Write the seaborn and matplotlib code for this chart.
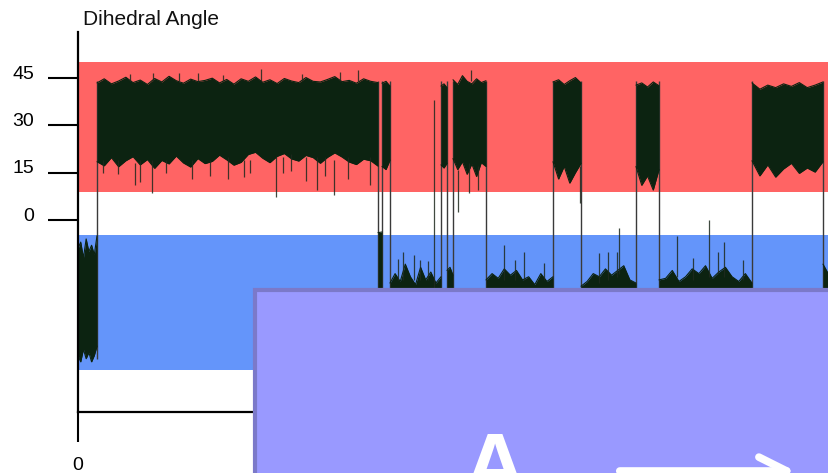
import numpy as np
import pandas as pd
import matplotlib
matplotlib.use('Agg')
import matplotlib.pyplot as plt
import matplotlib.transforms as mtransforms
from matplotlib.patches import Rectangle, FancyArrowPatch
import seaborn as sns

sns.set_style('white')
plt.rcParams['font.family'] = ['Liberation Sans', 'DejaVu Sans']

# ---------------------------------------------------------
# data (time in frames, angle in degrees)
# ---------------------------------------------------------
y_ticks = [0, 15, 30, 45]
x_ticks = [0]

red_band = (8.9, 50.1)      # upper conformer window
blue_band = (-47.6, -4.8)   # lower conformer window

seg_start = [0, 19, 300, 304, 312, 363, 369, 375, 408, 475, 503, 558, 581, 674, 745]
seg_end = [19, 300, 304, 312, 363, 369, 375, 408, 475, 503, 558, 581, 674, 745, 752]

seg_top = [
    [-9, -7, -12, -6, -10, -8, -11, -5],
    [43.5, 44.8, 43.2, 44.1, 45.3, 43.6, 44.4, 43.0, 44.9, 43.8, 45.6, 44.2, 43.4, 44.7,
     43.9, 44.3, 45.0, 43.5, 44.6, 43.1, 44.8, 44.0, 45.4, 43.7, 44.5, 43.3, 44.9, 44.1,
     43.6, 45.2, 44.0, 43.8, 44.6, 45.5, 43.9, 44.3, 43.4, 44.8, 44.0, 43.6],
    [-4, -3.8],
    [43.4, 44.0, 42.5],
    [-20, -17, -19.5, -14, -18, -20.5, -15, -19, -16.5, -20, -18],
    [42.5, 43.2, 42.0],
    [-16, -15, -17.5],
    [44.5, 43.0, 45.8, 44.0, 43.2, 44.8, 43.6, 44.2],
    [-19, -17, -18.5, -15.5, -17.5, -16, -19, -18, -20.5, -17, -19.5, -18],
    [43.8, 44.5, 43.0, 44.2, 45.2, 43.5],
    [-21, -19.5, -17, -18, -15.5, -17.5, -16, -14.5, -19, -20],
    [42.8, 43.5, 42.2, 43.8, 42.6],
    [-19, -18.5, -16, -19.5, -18, -15.5, -17, -14.5, -18.5, -16.5, -15, -18, -19.5, -17, -20],
    [43.5, 41.5, 42.8, 42.0, 43.2, 42.4, 43.6, 42.0, 42.8, 43.8],
    [-14, -18],
]
seg_bottom = [
    [-43, -45, -41, -44, -42, -45, -43, -40],
    [18.5, 17.2, 19.8, 16.9, 18.8, 20.1, 17.5, 19.2, 16.4, 18.9, 17.8, 20.3, 18.1, 16.8,
     19.5, 17.9, 18.6, 20.6, 19.1, 17.4, 18.3, 20.8, 21.5, 19.6, 18.2, 20.2, 21.1, 19.4,
     18.7, 20.5, 19.8, 18.0, 19.9, 21.3, 20.0, 18.4, 17.6, 19.3, 18.8, 17.1],
    [-44, -44],
    [17.0, 16.0, 19.0],
    [-44] * 11,
    [17.5, 16.5, 18.0],
    [-44] * 3,
    [19.5, 16.0, 18.5, 14.5, 17.8, 13.8, 18.2, 17.0],
    [-44] * 12,
    [18.5, 13.0, 17.0, 11.7, 15.0, 18.0],
    [-44] * 10,
    [17.0, 11.0, 14.0, 9.5, 16.0],
    [-44] * 15,
    [18.8, 14.0, 17.5, 13.6, 16.2, 18.0, 14.8, 16.5, 15.2, 18.5],
    [-44, -44],
]

# short single-frame excursions (frame, from, to)
spike_t = [25, 57, 62, 74, 114, 150, 172, 198, 213, 228, 239, 256,
           40, 88, 132, 166, 205, 247, 270, 292,
           75, 120, 183, 280, 52, 101, 145, 224, 262,
           380, 391, 400, 393, 502,
           320, 325, 336, 342, 350,
           426, 437, 446, 466,
           521, 530, 539, 541,
           599, 615, 631, 640, 646, 665,
           356]
spike_lo = [15, 11, 12, 8.6, 13, 13, 15, 7.3, 15.5, 12.5, 9.5, 8,
            14.5, 15, 14, 13.5, 15, 14, 13, 11,
            44, 44, 44, 44, 44, 44, 44, 44, 44,
            2.5, 8.6, 9.5, 44, 5.4,
            -19, -19, -19, -19, -19,
            -19, -19, -19, -19,
            -20, -19, -18, -17,
            -18, -19, -18, -17, -18, -19,
            -44]
spike_hi = [19, 18, 19, 19, 19, 20, 19, 20, 21, 20, 20, 19,
            19, 19, 19, 19, 20, 20, 20, 20,
            46.6, 46.5, 48, 47.5, 46.2, 46.8, 46.0, 46.4, 47.0,
            16, 18, 17, 47.6, 17,
            -12.5, -10.2, -11, -12.8, -13,
            -8, -12.7, -10.2, -13.5,
            -10.5, -10.2, -10, -2.5,
            -5, -12, 0, -10.2, -7, -12.7,
            38]

switch_t = seg_start[1:]

# ---------------------------------------------------------
# long table of envelope points
# ---------------------------------------------------------
rows = []
for i in range(len(seg_start)):
    ts = np.linspace(seg_start[i], seg_end[i], len(seg_top[i]))
    for t, hi, lo in zip(ts, seg_top[i], seg_bottom[i]):
        rows.append({'seg': i, 't': t, 'top': hi, 'bottom': lo})
env = pd.DataFrame(rows)

trace_col = '#0c2311'

fig = plt.figure(figsize=(8.29, 4.73), dpi=100, facecolor='white')
ax = fig.add_axes([0.0941, 0.129, 0.9059, 0.803])

ax.axhspan(*red_band, color='#ff6464', lw=0, zorder=0)
ax.axhspan(*blue_band, color='#6495fa', lw=0, zorder=0)

for i, g in env.groupby('seg'):
    ax.fill_between(g['t'], g['bottom'], g['top'], color=trace_col, lw=0, zorder=2)
sns.lineplot(data=env, x='t', y='top', units='seg', estimator=None,
             color=trace_col, lw=0.8, ax=ax, zorder=2)
sns.lineplot(data=env, x='t', y='bottom', units='seg', estimator=None,
             color=trace_col, lw=0.8, ax=ax, zorder=2)

ax.vlines(switch_t, -44, 44, color='#3a3a3a', lw=1.0, zorder=1.5)
ax.vlines(spike_t, spike_lo, spike_hi, color='#1e2a1e', lw=0.9, alpha=0.85, zorder=2)

ax.set_xlim(0, 751)
ax.set_ylim(-60.9, 59.6)
ax.set_xticks(x_ticks)
ax.set_xticklabels([str(v) for v in x_ticks])
ax.set_yticks(y_ticks)
ax.set_yticklabels([str(v) for v in y_ticks])
ax.set_xlabel('')
ax.set_ylabel('')

for side in ['top', 'right']:
    ax.spines[side].set_visible(False)
for side in ['left', 'bottom']:
    ax.spines[side].set_color('black')
    ax.spines[side].set_linewidth(1.6)

ax.tick_params(axis='both', which='major', direction='out', length=21.6, width=1.5,
               color='black', labelsize=14, labelcolor='black')
ax.tick_params(axis='y', pad=10, left=True)
ax.tick_params(axis='x', pad=11, bottom=True)

shift = mtransforms.ScaledTranslation(0, 0.06, fig.dpi_scale_trans)
for lab in ax.get_yticklabels():
    lab.set_transform(lab.get_transform() + shift)

fig.text(83 / 829, 1 - 25 / 473, 'Dihedral Angle', fontsize=15,
         ha='left', va='baseline', color='#111111')

# slide overlay covering the lower right of the plot
box = Rectangle((255 / 829, -0.2), 0.8, 0.2 + (473 - 290) / 473,
                transform=fig.transFigure, facecolor='#9999ff',
                edgecolor='#7b79c9', lw=3.0, zorder=10)
fig.add_artist(box)
fig.text(495 / 829, 1 - 493 / 473, 'A', fontsize=62, fontweight='bold', color='white',
         ha='center', va='baseline', zorder=11)
arrow = FancyArrowPatch((617 / 829, 1 - 471 / 473), (798 / 829, 1 - 471 / 473),
                        transform=fig.transFigure, arrowstyle='->,head_length=1.0,head_width=0.5',
                        mutation_scale=20, lw=5.5, color='white', zorder=11)
fig.add_artist(arrow)

fig.savefig('out.png', dpi=100, facecolor='white')
